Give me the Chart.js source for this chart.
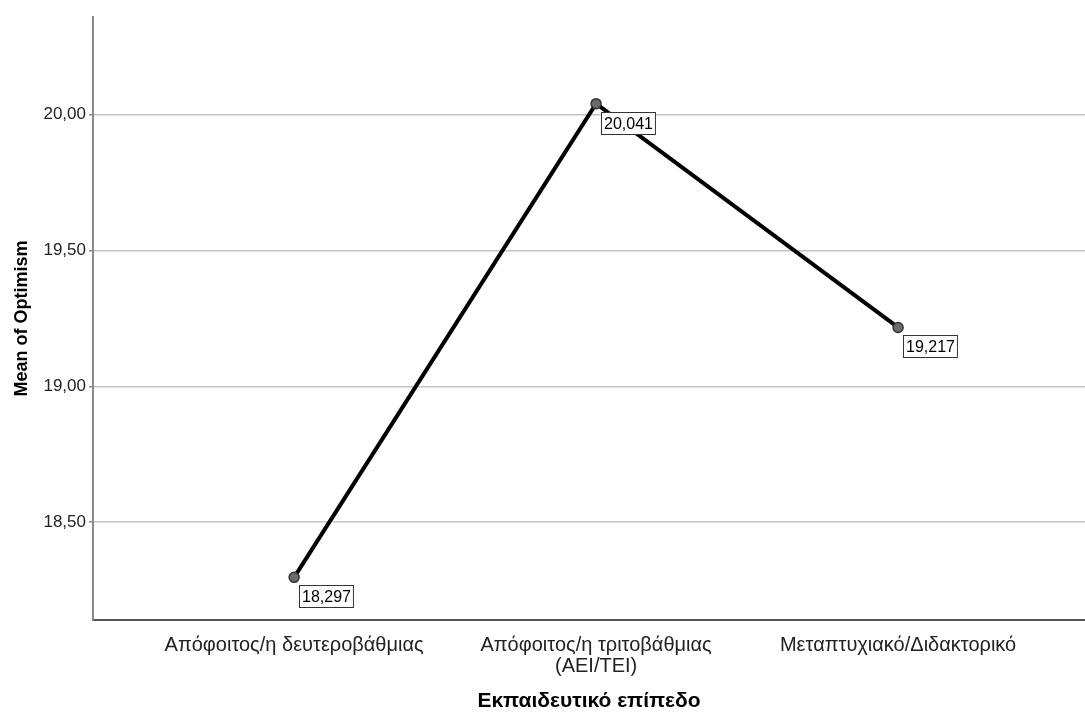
<!DOCTYPE html>
<html>
<head>
<meta charset="utf-8">
<script src="https://cdn.jsdelivr.net/npm/chart.js@4"></script>
<style>
  html, body { margin: 0; padding: 0; background: #fff; }
  #wrap { width: 1085px; height: 723px; }
</style>
</head>
<body>
<div id="wrap"><canvas id="meansChart"></canvas></div>
<script>
const categories = [
  'Απόφοιτος/η δευτεροβάθμιας',
  ['Απόφοιτος/η τριτοβάθμιας', '(ΑΕΙ/ΤΕΙ)'],
  'Μεταπτυχιακό/Διδακτορικό'
];
const means = [18.297, 20.041, 19.217];
const yTicks = [18.5, 19.0, 19.5, 20.0];

const narrow = "'Liberation Sans Narrow', 'Arial Narrow', 'Liberation Sans', Arial, sans-serif";
const sans = "'Liberation Sans', Arial, sans-serif";

function comma(v, d) {
  return v.toFixed(d).replace('.', ',');
}

// boxed value labels next to each point, like the SPSS output
const valueBoxes = {
  id: 'valueBoxes',
  afterDatasetsDraw(chart) {
    const ctx = chart.ctx;
    const meta = chart.getDatasetMeta(0);
    ctx.save();
    ctx.font = '16px ' + narrow;
    ctx.textBaseline = 'middle';
    ctx.textAlign = 'left';
    meta.data.forEach((pt, i) => {
      const txt = comma(means[i], 3);
      const w = ctx.measureText(txt).width + 5;
      const h = 22;
      const x = Math.round(pt.x + 5) + 0.5;
      const y = Math.round(pt.y + 8) + 0.5;
      ctx.fillStyle = '#fff';
      ctx.fillRect(x, y, w, h);
      ctx.strokeStyle = '#333';
      ctx.lineWidth = 1;
      ctx.strokeRect(x, y, w, h);
      ctx.fillStyle = '#000';
      ctx.fillText(txt, x + 2.5, y + h / 2 + 1);
    });
    ctx.restore();
  }
};

const ctx = document.getElementById('meansChart').getContext('2d');
new Chart(ctx, {
  type: 'line',
  data: {
    datasets: [{
      data: means.map((v, i) => ({ x: i, y: v })),
      borderColor: '#000',
      borderWidth: 4,
      pointRadius: 5,
      pointBackgroundColor: '#6b6b6b',
      pointBorderColor: '#333',
      pointBorderWidth: 1.5,
      tension: 0,
      fill: false
    }]
  },
  options: {
    responsive: true,
    maintainAspectRatio: false,
    animation: false,
    layout: { autoPadding: false, padding: { top: 17, left: 0, right: 0, bottom: 0 } },
    plugins: {
      legend: { display: false },
      tooltip: { enabled: false }
    },
    scales: {
      x: {
        type: 'linear',
        min: -0.666,
        max: 2.619,
        afterBuildTicks(scale) {
          scale.ticks = categories.map((c, i) => ({ value: i }));
        },
        afterFit(scale) { scale.height = 103; },
        grid: { display: false, drawTicks: false },
        border: { display: true, color: '#555', width: 2 },
        ticks: {
          padding: 15,
          maxRotation: 0,
          autoSkip: false,
          color: '#222',
          font: { family: narrow, size: 20, lineHeight: 1.05 },
          callback: (v) => categories[v]
        },
        title: {
          display: true,
          text: 'Εκπαιδευτικό επίπεδο',
          color: '#000',
          font: { family: sans, size: 21, weight: 'bold' },
          padding: { top: 0, bottom: 9 }
        }
      },
      y: {
        min: 18.14,
        max: 20.36,
        afterBuildTicks(scale) {
          scale.ticks = yTicks.map(v => ({ value: v }));
        },
        afterFit(scale) { scale.width = 93; },
        grid: {
          color: '#c4c4c4',
          lineWidth: 1.5,
          tickColor: '#8a8a8a',
          tickLength: 4
        },
        border: { display: true, color: '#8a8a8a', width: 2 },
        ticks: {
          padding: 3,
          color: '#222',
          font: { family: narrow, size: 17 },
          callback: (v) => comma(v, 2)
        },
        title: {
          display: true,
          text: 'Mean of Optimism',
          color: '#000',
          font: { family: sans, size: 18, weight: 'bold' },
          padding: { top: 11, bottom: 0 }
        }
      }
    }
  },
  plugins: [valueBoxes]
});
</script>
</body>
</html>
